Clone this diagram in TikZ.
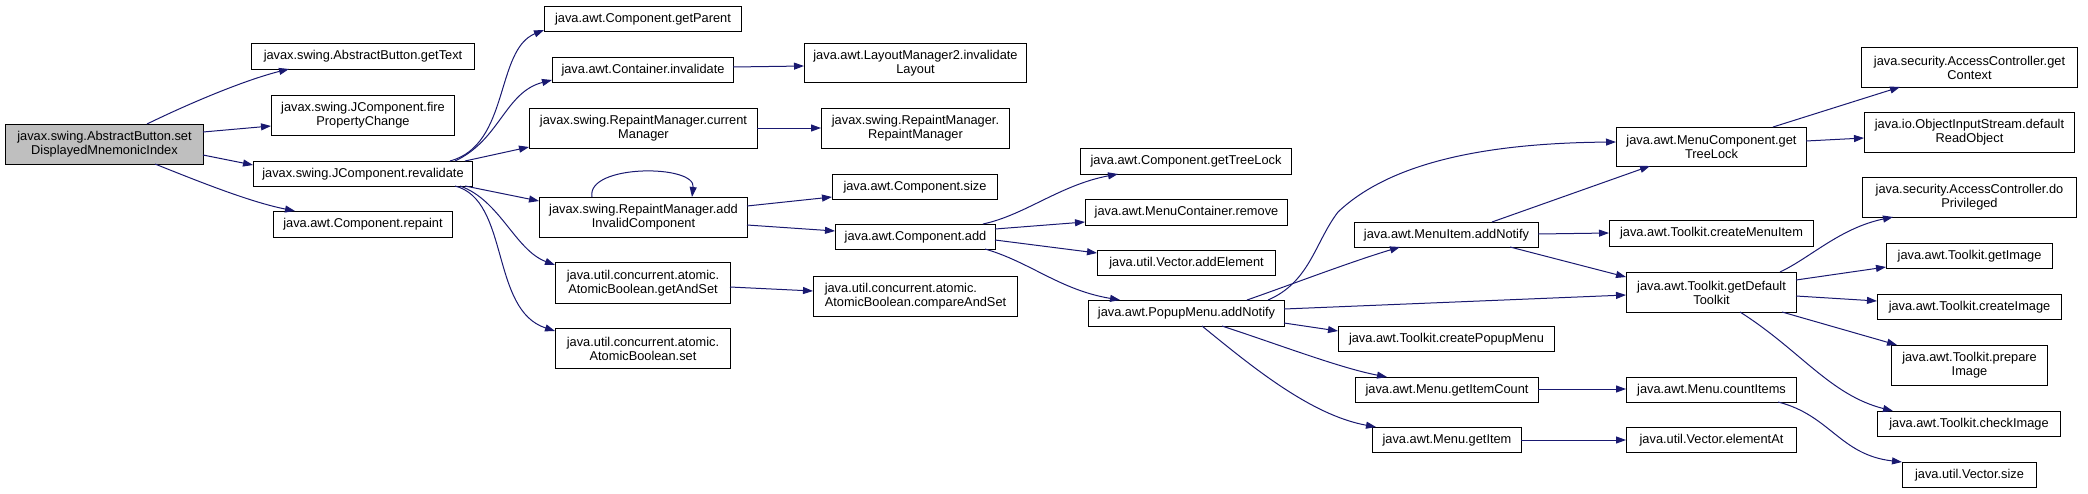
\documentclass[tikz,border=0pt]{standalone}
\usepackage{fontspec}
\setmainfont{Liberation Sans}
\usetikzlibrary{arrows.meta}
\definecolor{edgec}{HTML}{191970}
\definecolor{rootfill}{HTML}{BFBFBF}
\newcommand\bx[7][]{\node[box,#1,minimum width={#5-#3},minimum height={#6-#4}] (#2) at (#3,#4) {#7};}
\begin{document}
\begin{tikzpicture}[x=1pt,y=-1pt,
  box/.style={draw=black,line width=1pt,fill=white,anchor=north west,inner sep=0pt,align=center,
    font=\fontsize{12.8}{14}\selectfont},
  e/.style={draw=edgec,line width=1pt,-{Triangle[length=10pt,width=7pt,color=edgec]}}]
\useasboundingbox (0,0) rectangle (2088,493);
\bx[fill=rootfill]{root}{5}{124}{203}{164}{javax.swing.AbstractButton.set\\DisplayedMnemonicIndex}
\bx{getText}{251}{43}{474}{69}{javax.swing.AbstractButton.getText}
\bx{fire}{271}{95}{454}{135}{javax.swing.JComponent.fire\\PropertyChange}
\bx{reval}{253}{161}{472}{186}{javax.swing.JComponent.revalidate}
\bx{repaint}{273}{211}{452}{237}{java.awt.Component.repaint}
\bx{getParent}{544}{6}{741}{31}{java.awt.Component.getParent}
\bx{cinval}{552}{57}{733}{82}{java.awt.Container.invalidate}
\bx{layout}{804}{43}{1026}{82}{java.awt.LayoutManager2.invalidate\\Layout}
\bx{curMgr}{529}{108}{757}{148}{javax.swing.RepaintManager.current\\Manager}
\bx{rmRM}{821}{108}{1009}{148}{javax.swing.RepaintManager.\\RepaintManager}
\bx{addInv}{539}{197}{747}{237}{javax.swing.RepaintManager.add\\InvalidComponent}
\bx{csize}{832}{174}{997}{199}{java.awt.Component.size}
\bx{cadd}{835}{224}{995}{249}{java.awt.Component.add}
\bx{gas}{555}{262}{730}{303}{java.util.concurrent.atomic.\\AtomicBoolean.getAndSet}
\bx[align=left]{cas}{813}{276}{1017}{316}{java.util.concurrent.atomic.\\AtomicBoolean.compareAndSet}
\bx{aset}{555}{328}{730}{368}{java.util.concurrent.atomic.\\AtomicBoolean.set}
\bx{ctl}{1080}{148}{1291}{174}{java.awt.Component.getTreeLock}
\bx{mcr}{1085}{199}{1287}{225}{java.awt.MenuContainer.remove}
\bx{vae}{1097}{250}{1275}{275}{java.util.Vector.addElement}
\bx{pman}{1088}{300}{1284}{326}{java.awt.PopupMenu.addNotify}
\bx{mian}{1354}{222}{1538}{247}{java.awt.MenuItem.addNotify}
\bx{cpm}{1338}{326}{1554}{351}{java.awt.Toolkit.createPopupMenu}
\bx{gic}{1355}{377}{1538}{402}{java.awt.Menu.getItemCount}
\bx{gi}{1372}{427}{1521}{452}{java.awt.Menu.getItem}
\bx{mctl}{1616}{127}{1806}{166}{java.awt.MenuComponent.get\\TreeLock}
\bx{gctx}{1861}{47}{2077}{87}{java.security.AccessController.get\\Context}
\bx{ois}{1864}{112}{2074}{152}{java.io.ObjectInputStream.default\\ReadObject}
\bx{dop}{1862}{177}{2076}{217}{java.security.AccessController.do\\Privileged}
\bx{cmi}{1609}{220}{1813}{246}{java.awt.Toolkit.createMenuItem}
\bx{gdt}{1626}{272}{1796}{312}{java.awt.Toolkit.getDefault\\Toolkit}
\bx{gim}{1886}{243}{2052}{268}{java.awt.Toolkit.getImage}
\bx{cim}{1877}{294}{2061}{319}{java.awt.Toolkit.createImage}
\bx{pim}{1891}{345}{2047}{385}{java.awt.Toolkit.prepare\\Image}
\bx{chk}{1877}{411}{2060}{436}{java.awt.Toolkit.checkImage}
\bx{cit}{1626}{377}{1796}{402}{java.awt.Menu.countItems}
\bx{eat}{1626}{427}{1796}{452}{java.util.Vector.elementAt}
\bx{vsz}{1902}{462}{2036}{487}{java.util.Vector.size}
% edges
\draw[e] ([shift={(142,0)}]root.north west) .. controls (190,103) and (245,80) .. ([shift={(38,26)}]getText.north west);
\draw[e] ([shift={(198,8)}]root.north west) -- ([shift={(0,31)}]fire.north west);
\draw[e] ([shift={(198,31)}]root.north west) -- ([shift={(0,4)}]reval.north west);
\draw[e] ([shift={(150,40)}]root.north west) .. controls (200,182) and (250,202) .. ([shift={(22,0)}]repaint.north west);
\draw[e] ([shift={(197,0)}]reval.north west) .. controls (510,145) and (495,50) .. ([shift={(0,24)}]getParent.north west);
\draw[e] ([shift={(202,0)}]reval.north west) .. controls (500,140) and (505,92) .. ([shift={(0,23)}]cinval.north west);
\draw[e] ([shift={(212,0)}]reval.north west) -- ([shift={(0,39)}]curMgr.north west);
\draw[e] ([shift={(212,25)}]reval.north west) -- ([shift={(0,4)}]addInv.north west);
\draw[e] ([shift={(207,25)}]reval.north west) .. controls (500,200) and (515,250) .. ([shift={(0,3)}]gas.north west);
\draw[e] ([shift={(202,25)}]reval.north west) .. controls (510,200) and (490,310) .. ([shift={(0,3)}]aset.north west);
\draw[e] ([shift={(181,10)}]cinval.north west) -- ([shift={(0,23)}]layout.north west);
\draw[e] ([shift={(228,20)}]curMgr.north west) -- ([shift={(0,20)}]rmRM.north west);
\draw[e] ([shift={(53,0)}]addInv.north west) .. controls (586,164) and (696,164) .. ([shift={(153,0)}]addInv.north west);
\draw[e] ([shift={(208,9)}]addInv.north west) -- ([shift={(0,23)}]csize.north west);
\draw[e] ([shift={(208,28)}]addInv.north west) -- ([shift={(0,7)}]cadd.north west);
\draw[e] ([shift={(175,25)}]gas.north west) -- ([shift={(0,15)}]cas.north west);
\draw[e] ([shift={(148,0)}]cadd.north west) .. controls (1025,215) and (1060,185) .. ([shift={(38,26)}]ctl.north west);
\draw[e] ([shift={(160,5)}]cadd.north west) -- ([shift={(0,23)}]mcr.north west);
\draw[e] ([shift={(160,16)}]cadd.north west) -- ([shift={(0,3)}]vae.north west);
\draw[e] ([shift={(150,25)}]cadd.north west) .. controls (1030,262) and (1060,290) .. ([shift={(32,0)}]pman.north west);
\draw[e] ([shift={(180,0)}]pman.north west) .. controls (1310,282) and (1315,242) .. (1338,212) .. controls (1395,158) and (1500,143) .. ([shift={(0,15)}]mctl.north west);
\draw[e] ([shift={(159,0)}]pman.north west) .. controls (1290,285) and (1350,262) .. ([shift={(46,25)}]mian.north west);
\draw[e] ([shift={(196,9)}]pman.north west) -- ([shift={(0,23)}]gdt.north west);
\draw[e] ([shift={(196,23)}]pman.north west) -- ([shift={(0,5)}]cpm.north west);
\draw[e] ([shift={(134,26)}]pman.north west) .. controls (1280,345) and (1340,368) .. ([shift={(32,0)}]gic.north west);
\draw[e] ([shift={(114,26)}]pman.north west) .. controls (1250,365) and (1310,415) .. ([shift={(4,0)}]gi.north west);
\draw[e] ([shift={(138,0)}]mian.north west) -- ([shift={(34,39)}]mctl.north west);
\draw[e] ([shift={(184,12)}]mian.north west) -- ([shift={(0,13)}]cmi.north west);
\draw[e] ([shift={(156,25)}]mian.north west) -- ([shift={(0,5)}]gdt.north west);
\draw[e] ([shift={(157,0)}]mctl.north west) -- ([shift={(39,40)}]gctx.north west);
\draw[e] ([shift={(190,14)}]mctl.north west) -- ([shift={(0,26)}]ois.north west);
\draw[e] ([shift={(154,0)}]gdt.north west) .. controls (1810,258) and (1840,228) .. ([shift={(31,40)}]dop.north west);
\draw[e] ([shift={(170,8)}]gdt.north west) -- ([shift={(0,24)}]gim.north west);
\draw[e] ([shift={(170,24)}]gdt.north west) -- ([shift={(0,7)}]cim.north west);
\draw[e] ([shift={(156,40)}]gdt.north west) -- ([shift={(6,0)}]pim.north west);
\draw[e] ([shift={(114,40)}]gdt.north west) .. controls (1800,350) and (1830,395) .. ([shift={(16,0)}]chk.north west);
\draw[e] ([shift={(183,12)}]gic.north west) -- ([shift={(0,12)}]cit.north west);
\draw[e] ([shift={(149,13)}]gi.north west) -- ([shift={(0,13)}]eat.north west);
\draw[e] ([shift={(152,25)}]cit.north west) .. controls (1830,415) and (1840,455) .. ([shift={(0,0)}]vsz.north west);
\end{tikzpicture}
\end{document}
